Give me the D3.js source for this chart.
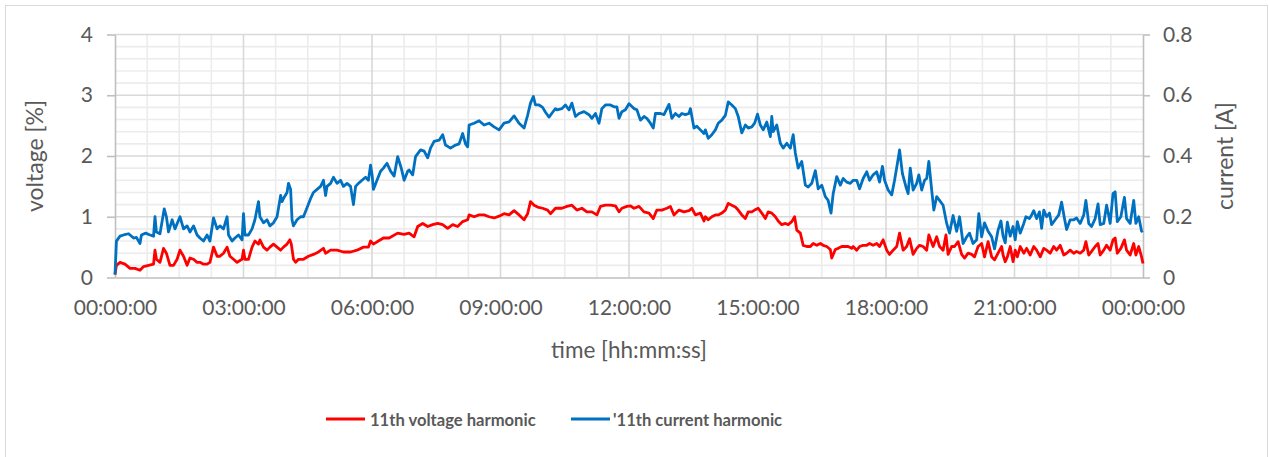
<!DOCTYPE html>
<html>
<head>
<meta charset="utf-8">
<script src="https://cdn.jsdelivr.net/npm/d3@7"></script>
<style>
  html, body { margin: 0; padding: 0; background: #fff; }
  svg { display: block; font-family: Lato, "Open Sans", sans-serif; }
</style>
</head>
<body>
<svg id="chart" width="1269" height="457"></svg>
<script>
// 11th harmonic over one day; time is in minutes after midnight
const voltageMinutes = [0,2,7,14,21,28,35,40,47,54,56,58,63,68,72,77,82,87,91,96,101,105,110,115,119,124,129,133,138,143,147,152,157,161,166,171,175,178,180,182,187,192,196,201,203,208,213,217,222,227,232,236,241,245,247,250,253,257,264,271,278,285,292,295,302,311,320,330,339,348,355,358,362,369,376,384,396,405,
  412,419,424,431,438,445,452,459,466,473,480,487,494,496,503,510,517,524,531,538,545,552,559,566,573,578,582,587,592,599,606,610,617,
  619,626,633,640,647,654,661,668,675,680,687,694,701,706,710,717,722,727,734,741,748,754,759,766,773,778,783,790,797,804,808,813,820,825,
  827,831,836,841,845,850,855,859,864,869,873,878,883,887,892,896,901,906,911,915,920,925,929,934,939,943,948,952,955,960,964,969,974,978,983,988,992,997,1002,1004,1009,1013,1018,1023,1027,1032,
  1034,1039,1043,1048,1053,1057,1062,1067,1071,1076,1081,1085,1090,1095,1099,1104,1109,1113,1118,1123,1127,1132,1137,1140,1146,1151,1155,1160,1164,1167,1172,1176,1181,1186,1190,1195,1200,1204,1209,1214,1218,1223,1228,1232,1237,1242,
  1244,1247,1250,1254,1258,1261,1264,1268,1273,1277,1282,1287,1291,1296,1301,1305,1310,1315,1319,1324,1329,1333,1338,1343,1347,1352,1357,1360,1364,1368,1373,1377,1380,1385,1389,1394,1398,1401,1404,1409,1414,1417,1422,1427,1430,1434,1438,1440];
const voltageValues = [0.05,0.2,0.25,0.22,0.15,0.15,0.12,0.18,0.2,0.22,0.45,0.3,0.25,0.48,0.4,0.2,0.2,0.3,0.45,0.35,0.2,0.32,0.3,0.25,0.25,0.22,0.22,0.25,0.5,0.35,0.35,0.4,0.5,0.35,0.3,0.25,0.28,0.3,0.45,0.3,0.3,0.5,0.6,0.55,0.62,0.5,0.45,0.5,0.55,0.5,0.45,0.5,0.55,0.62,0.55,0.3,0.25,0.3,0.3,0.35,0.38,0.42,0.48,0.4,0.45,0.45,0.42,0.42,0.45,0.5,0.5,0.6,0.55,0.6,0.65,0.65,0.73,0.71,
  0.73,0.67,0.84,0.89,0.84,0.87,0.89,0.87,0.81,0.87,0.84,0.92,0.95,1.03,1.0,1.03,1.03,1.0,0.98,1.01,1.05,1.03,1.1,1.03,0.95,1.05,1.25,1.19,1.16,1.14,1.11,1.05,1.14,
  1.14,1.14,1.17,1.19,1.11,1.14,1.08,1.08,1.03,1.17,1.19,1.19,1.18,1.08,1.14,1.17,1.18,1.14,1.17,1.08,1.06,0.97,1.11,1.11,1.14,1.17,1.03,1.11,1.08,1.1,1.14,1.03,1.06,0.93,
  1.0,0.95,1.0,1.03,1.03,1.06,1.11,1.22,1.19,1.16,1.11,1.03,0.97,1.08,1.08,1.11,1.14,1.06,0.97,1.08,1.06,1.0,0.93,0.87,0.89,0.87,0.92,1.0,0.78,0.73,0.53,0.51,0.51,0.56,0.53,0.56,0.53,0.51,0.46,0.32,0.46,0.48,0.51,0.51,0.51,0.48,
  0.51,0.45,0.51,0.53,0.53,0.56,0.53,0.56,0.51,0.62,0.45,0.38,0.45,0.51,0.73,0.45,0.51,0.64,0.38,0.48,0.53,0.51,0.45,0.7,0.51,0.67,0.51,0.45,0.7,0.38,0.51,0.51,0.59,0.38,0.32,0.4,0.38,0.34,0.51,0.56,0.34,0.59,0.34,0.29,0.4,0.51,
  0.37,0.26,0.34,0.51,0.26,0.45,0.34,0.51,0.4,0.48,0.37,0.51,0.45,0.34,0.48,0.45,0.4,0.51,0.45,0.53,0.37,0.4,0.45,0.4,0.43,0.4,0.45,0.59,0.37,0.43,0.51,0.56,0.37,0.45,0.53,0.45,0.62,0.65,0.4,0.48,0.62,0.45,0.37,0.56,0.37,0.51,0.34,0.23];

const currentMinutes = [0,2,7,12,19,26,30,35,37,43,49,54,56,58,63,69,72,75,80,84,91,96,101,105,110,115,119,124,129,133,138,143,147,152,157,159,164,168,173,178,180,182,187,192,196,201,203,208,213,217,222,227,232,234,236,241,243,246,248,250,255,260,264,269,274,278,283,288,292,295,297,302,306,311,316,320,325,330,334,337,341,346,351,355,358,360,362,367,372,376,381,386,391,396,401,405,410,
  412,417,421,428,433,438,442,447,454,459,463,470,477,482,487,491,494,496,503,510,517,524,531,538,545,552,559,566,573,578,582,586,589,594,599,603,608,613,617,
  619,626,631,636,640,645,650,657,664,668,673,678,682,687,694,699,703,706,710,715,720,727,731,736,741,745,750,754,757,764,769,776,780,785,790,794,799,804,806,811,815,820,825,
  827,831,836,841,845,850,855,859,864,869,873,878,883,887,892,896,900,904,908,913,918,920,922,927,932,936,941,946,950,953,957,962,967,971,976,981,985,990,995,999,1003,1006,1011,1016,1020,1025,1030,1034,
  1039,1043,1048,1053,1057,1062,1067,1071,1075,1078,1083,1088,1092,1096,1099,1103,1108,1111,1114,1118,1123,1126,1130,1134,1137,1140,1144,1147,1151,1155,1160,1165,1169,1174,1179,1183,1188,1193,1197,1202,1207,1210,1214,1218,1223,1228,1232,1237,1241,
  1244,1247,1250,1254,1258,1261,1264,1268,1273,1276,1281,1284,1287,1291,1295,1298,1301,1305,1309,1312,1317,1322,1326,1330,1333,1338,1343,1347,1352,1357,1360,1364,1368,1373,1377,1380,1385,1389,1392,1394,1398,1401,1404,1409,1414,1417,1422,1427,1430,1434,1438,1440];
const currentValues = [0.01,0.12,0.136,0.14,0.144,0.13,0.132,0.112,0.14,0.146,0.14,0.136,0.2,0.15,0.144,0.226,0.2,0.15,0.19,0.16,0.2,0.16,0.17,0.15,0.17,0.14,0.13,0.12,0.14,0.12,0.196,0.16,0.17,0.16,0.2,0.14,0.12,0.13,0.14,0.124,0.21,0.14,0.14,0.16,0.19,0.25,0.2,0.18,0.19,0.17,0.18,0.2,0.27,0.25,0.26,0.28,0.31,0.29,0.19,0.17,0.19,0.2,0.2,0.23,0.26,0.28,0.29,0.3,0.32,0.27,0.3,0.31,0.33,0.31,0.32,0.3,0.31,0.3,0.24,0.3,0.31,0.32,0.33,0.32,0.37,0.34,0.29,0.32,0.35,0.36,0.376,0.35,0.334,0.398,0.36,0.32,0.35,
  0.354,0.338,0.398,0.42,0.416,0.394,0.426,0.448,0.452,0.47,0.436,0.426,0.436,0.44,0.474,0.44,0.43,0.502,0.508,0.516,0.502,0.508,0.496,0.486,0.508,0.512,0.532,0.508,0.492,0.534,0.574,0.596,0.568,0.568,0.56,0.544,0.528,0.544,0.556,
  0.552,0.556,0.568,0.552,0.574,0.53,0.54,0.546,0.536,0.524,0.54,0.508,0.556,0.568,0.568,0.562,0.562,0.524,0.546,0.552,0.572,0.556,0.552,0.518,0.53,0.524,0.508,0.492,0.54,0.54,0.536,0.57,0.524,0.54,0.53,0.54,0.536,0.54,0.556,0.492,0.498,0.486,0.474,
  0.486,0.458,0.47,0.486,0.508,0.518,0.534,0.578,0.568,0.556,0.53,0.476,0.502,0.492,0.496,0.508,0.538,0.502,0.486,0.512,0.464,0.53,0.48,0.502,0.442,0.426,0.442,0.426,0.47,0.41,0.36,0.382,0.304,0.298,0.31,0.352,0.292,0.304,0.266,0.254,0.212,0.276,0.332,0.304,0.326,0.314,0.31,0.32,
  0.32,0.292,0.326,0.348,0.32,0.338,0.348,0.314,0.366,0.32,0.288,0.272,0.32,0.376,0.42,0.342,0.298,0.276,0.36,0.288,0.31,0.338,0.288,0.32,0.326,0.382,0.288,0.222,0.266,0.254,0.238,0.178,0.146,0.204,0.152,0.2,0.112,0.134,0.146,0.112,0.124,0.21,0.134,0.18,0.152,0.134,0.094,0.156,0.186,
  0.136,0.114,0.182,0.136,0.168,0.124,0.184,0.146,0.178,0.2,0.194,0.206,0.22,0.194,0.216,0.162,0.222,0.2,0.212,0.174,0.19,0.206,0.248,0.194,0.158,0.19,0.19,0.196,0.178,0.206,0.254,0.178,0.168,0.194,0.242,0.174,0.178,0.238,0.204,0.178,0.276,0.282,0.184,0.2,0.264,0.194,0.178,0.254,0.178,0.2,0.152,0.154];

const voltageTicks = [0, 1, 2, 3, 4];
const currentTicks = [0, 0.2, 0.4, 0.6, 0.8];
const timeTicks = [0, 180, 360, 540, 720, 900, 1080, 1260, 1440];
const seriesNames = ["11th voltage harmonic", "'11th current harmonic"];
const seriesColors = ["#FF0000", "#0070C0"];

const svg = d3.select("#chart");
const W = 1269, H = 457;
const plot = { left: 115, right: 1143, top: 34.5, bottom: 277.5 };

// outer frame
svg.append("rect").attr("x", 5.5).attr("y", 5.5).attr("width", W - 7).attr("height", H + 10)
  .attr("fill", "#fff").attr("stroke", "#d9d9d9").attr("stroke-width", 1);

const x = d3.scaleLinear().domain([0, 1440]).range([plot.left, plot.right]);
const yV = d3.scaleLinear().domain([0, 4]).range([plot.bottom, plot.top]);
const yC = d3.scaleLinear().domain([0, 0.8]).range([plot.bottom, plot.top]);

const grid = svg.append("g");
// minor grid: every 45 minutes and every 0.2 %
d3.range(0, 1440 + 1, 45).filter(m => m % 180 !== 0).forEach(m => {
  grid.append("line").attr("x1", x(m)).attr("x2", x(m)).attr("y1", plot.top).attr("y2", plot.bottom)
    .attr("stroke", "#ececec").attr("stroke-width", 1.6);
});
d3.range(0, 4.0001, 0.2).map(v => +v.toFixed(1)).filter(v => !Number.isInteger(v)).forEach(v => {
  grid.append("line").attr("x1", plot.left).attr("x2", plot.right).attr("y1", yV(v)).attr("y2", yV(v))
    .attr("stroke", "#ececec").attr("stroke-width", 1.6);
});
// major grid
timeTicks.slice(1, -1).forEach(m => {
  grid.append("line").attr("x1", x(m)).attr("x2", x(m)).attr("y1", plot.top).attr("y2", plot.bottom)
    .attr("stroke", "#d9d9d9").attr("stroke-width", 1.6);
});
voltageTicks.slice(1).forEach(v => {
  grid.append("line").attr("x1", plot.left).attr("x2", plot.right).attr("y1", yV(v)).attr("y2", yV(v))
    .attr("stroke", "#d9d9d9").attr("stroke-width", 1.6);
});

// axes
const fmtTime = m => {
  const h = Math.floor(m / 60) % 24;
  return String(h).padStart(2, "0") + ":00:00";
};
const axisStyle = g => {
  g.selectAll(".domain").attr("stroke", "#bfbfbf").attr("stroke-width", 1.6);
  g.selectAll(".tick line").attr("stroke", "#bfbfbf").attr("stroke-width", 1.6);
  g.selectAll("text").attr("fill", "#595959").attr("font-size", 21).attr("font-family", "Lato, sans-serif");
};
svg.append("g").attr("transform", `translate(${plot.left},0)`)
  .call(d3.axisLeft(yV).tickValues(voltageTicks).tickFormat(d3.format("d")).tickSize(8).tickPadding(14).tickSizeOuter(0))
  .call(axisStyle);
svg.append("g").attr("transform", `translate(${plot.right},0)`)
  .call(d3.axisRight(yC).tickValues(currentTicks).tickFormat(d => d === 0 ? "0" : d3.format(".1f")(d)).tickSize(7).tickPadding(13).tickSizeOuter(0))
  .call(axisStyle);
svg.append("g").attr("transform", `translate(0,${plot.bottom})`)
  .call(d3.axisBottom(x).tickValues(timeTicks).tickFormat(fmtTime).tickSize(0).tickPadding(23).tickSizeOuter(0))
  .call(axisStyle);

// series
const line = d3.line().curve(d3.curveLinear);
svg.append("path")
  .attr("d", line(voltageMinutes.map((m, i) => [x(m), yV(voltageValues[i])])))
  .attr("fill", "none").attr("stroke", seriesColors[0]).attr("stroke-width", 2.8).attr("stroke-linejoin", "round");
svg.append("path")
  .attr("d", line(currentMinutes.map((m, i) => [x(m), yC(currentValues[i])])))
  .attr("fill", "none").attr("stroke", seriesColors[1]).attr("stroke-width", 2.8).attr("stroke-linejoin", "round");

// axis titles
svg.append("text").attr("x", (plot.left + plot.right) / 2).attr("y", 358).attr("text-anchor", "middle")
  .attr("fill", "#595959").attr("font-size", 22.5).text("time [hh:mm:ss]");
svg.append("text").attr("transform", `translate(43,${(plot.top + plot.bottom) / 2}) rotate(-90)`)
  .attr("text-anchor", "middle").attr("fill", "#595959").attr("font-size", 23).text("voltage [%]");
svg.append("text").attr("transform", `translate(1233,${(plot.top + plot.bottom) / 2}) rotate(-90)`)
  .attr("text-anchor", "middle").attr("fill", "#595959").attr("font-size", 23).text("current [A]");

// legend
const legendX = [326, 571];
seriesNames.forEach((name, i) => {
  const g = svg.append("g").attr("transform", `translate(${legendX[i]},419)`);
  g.append("line").attr("x1", 0).attr("x2", 39).attr("y1", 0).attr("y2", 0)
    .attr("stroke", seriesColors[i]).attr("stroke-width", 2.8);
  g.append("text").attr("x", i === 0 ? 44 : 42).attr("y", 6.5).attr("fill", "#595959")
    .attr("font-size", 16.6).attr("font-weight", "bold").text(name);
});
</script>
</body>
</html>
